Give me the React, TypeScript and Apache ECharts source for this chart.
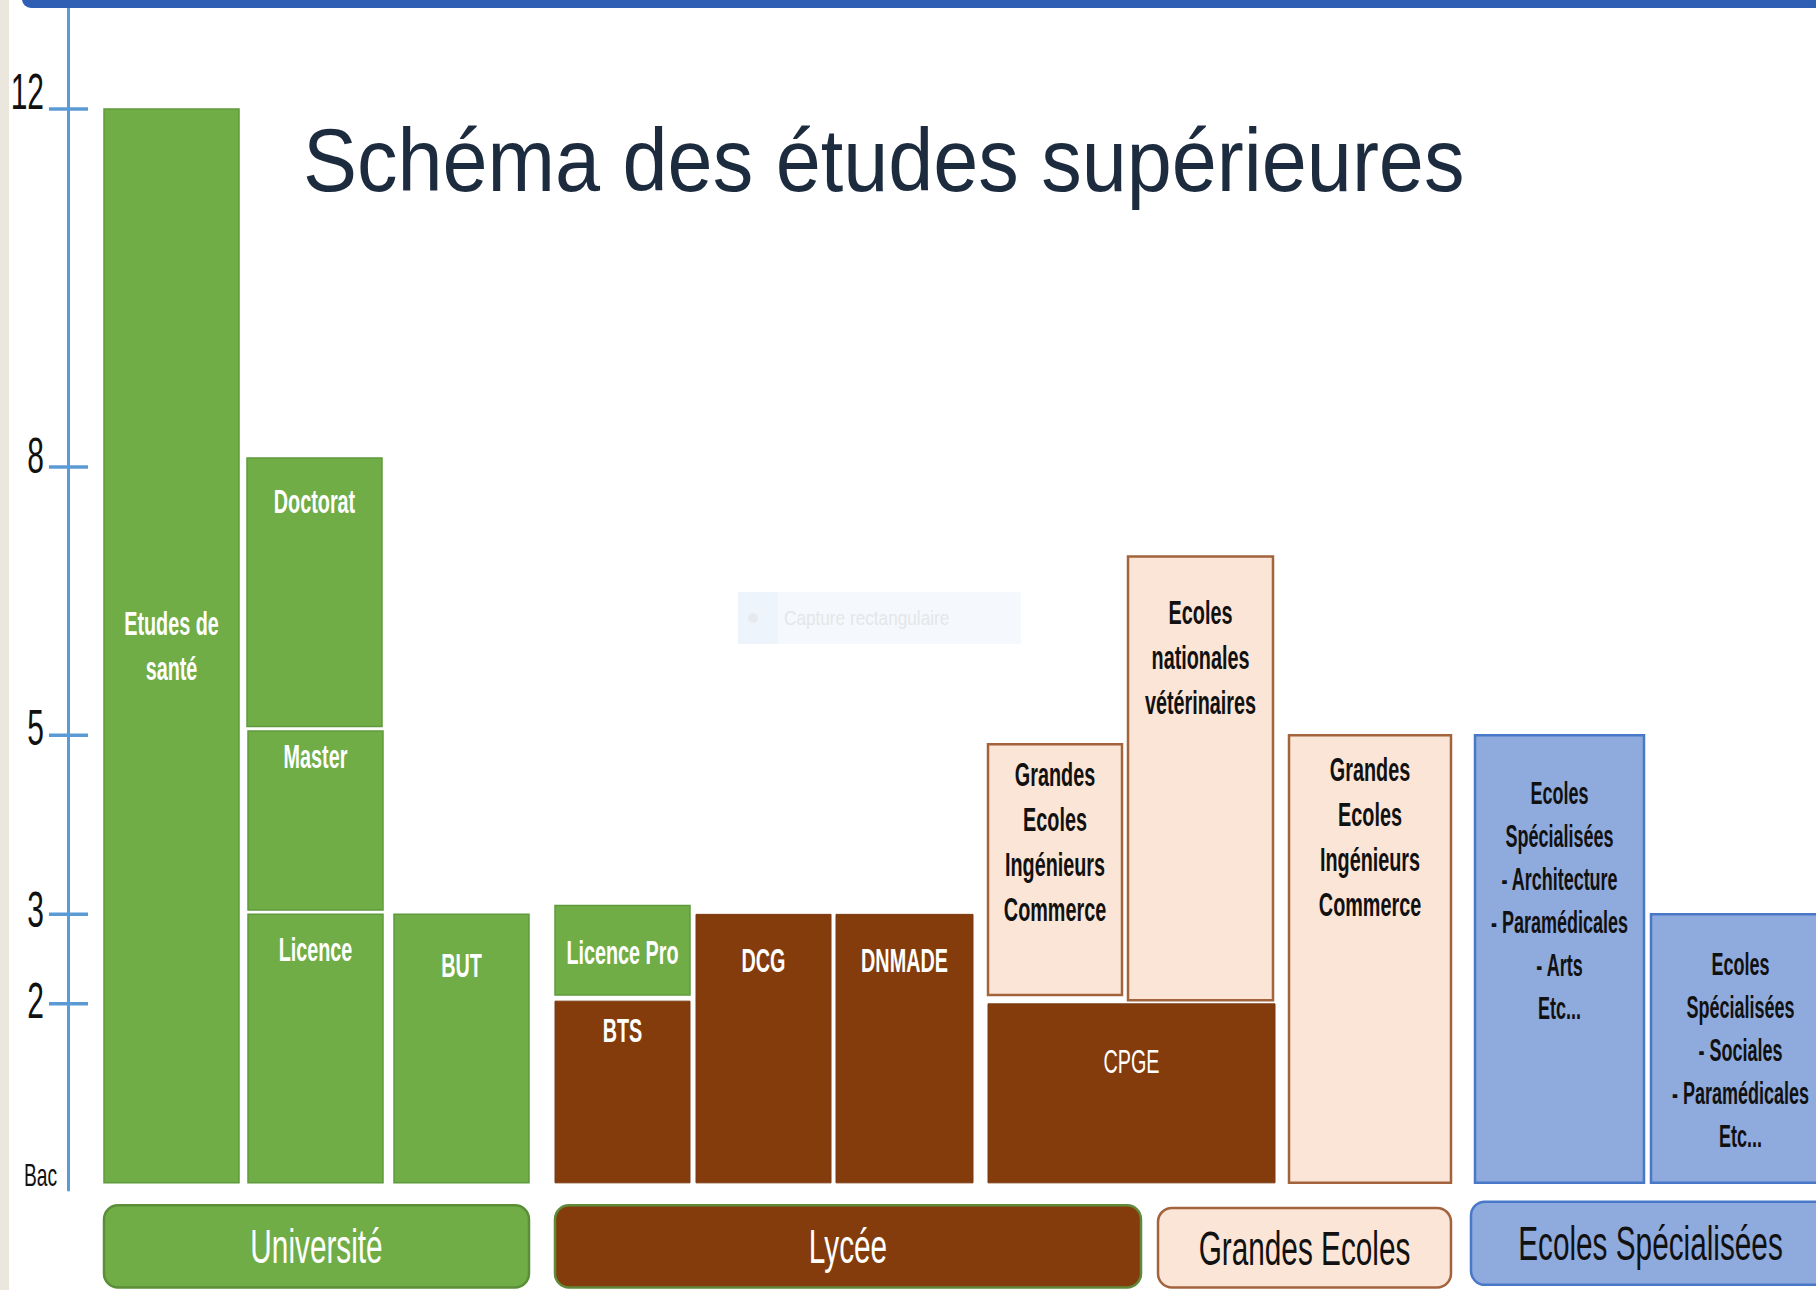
import React, { useEffect, useRef } from 'react';
import * as echarts from 'echarts';

// ---- Y axis (years after the Bac) ----
const tickValues = [2, 3, 5, 8, 12];
const axisLabelValues = [0, 2, 3, 5, 8, 12];
const axisLabelTexts = ['Bac', '2', '3', '5', '8', '12'];

// ---- Study boxes (left to right) ----
const boxNames = [
  'Etudes de\nsanté',
  'Doctorat',
  'Master',
  'Licence',
  'BUT',
  'Licence Pro',
  'BTS',
  'DCG',
  'DNMADE',
  'Grandes\nEcoles\nIngénieurs\nCommerce',
  'Ecoles\nnationales\nvétérinaires',
  'CPGE',
  'Grandes\nEcoles\nIngénieurs\nCommerce',
  'Ecoles\nSpécialisées\n- Architecture\n- Paramédicales\n- Arts\nEtc...',
  'Ecoles\nSpécialisées\n- Sociales\n- Paramédicales\nEtc...',
];
const boxFamilies = ['univ', 'univ', 'univ', 'univ', 'univ', 'univ', 'lycee', 'lycee', 'lycee', 'ge', 'ge', 'lycee', 'ge', 'es', 'es'];
const boxStartYear = [0, 5.1, 3.05, 0, 0, 2.1, 0, 0, 0, 2.1, 2.04, 0, 0, 0, 0];
const boxEndYear = [12, 8.1, 5.05, 3, 3, 3.1, 2.03, 3, 3, 4.9, 7, 2, 5, 5, 3];
const boxColStart = [3.6, 17.9, 18.0, 18.0, 32.6, 48.7, 48.7, 62.8, 76.8, 92.0, 106.0, 92.0, 122.1, 140.7, 158.3];
const boxColEnd = [17.1, 31.4, 31.5, 31.5, 46.1, 62.2, 62.2, 76.3, 90.5, 105.4, 120.5, 120.7, 138.3, 157.6, 176.2];

// ---- Pathway groups (bottom band) ----
const groupNames = ['Université', 'Lycée', 'Grandes Ecoles', 'Ecoles Spécialisées'];
const groupFamilies = ['univ', 'lycee', 'ge', 'es'];
const groupColStart = [3.6, 48.7, 109.0, 140.3];
const groupColEnd = [46.1, 107.3, 138.3, 176.2];
const groupTop = [-0.25, -0.25, -0.28, -0.21];
const groupBottom = [-1.17, -1.17, -1.17, -1.14];

// ---- layout / style helpers (not data) ----
const labelPad = [-1, 44, 26, 35, 51, 47, 29, 46, 46, 30, 56, 58, 34, 58, 50];
const boxBold = [true, true, true, true, true, true, true, true, true, true, true, false, true, true, true];
const FONT = 'Liberation Sans, Arial, sans-serif';

const famStyle: Record<string, any> = {
  univ: { fill: '#70ad47', stroke: '#5e9a3b', lw: 1.5, text: '#ffffff' },
  lycee: { fill: '#843c0c', stroke: '#7a3a12', lw: 1, text: '#ffffff' },
  ge: { fill: '#fbe5d6', stroke: '#a3633d', lw: 2.5, text: '#111111' },
  es: { fill: '#8faadc', stroke: '#4a78c8', lw: 2.5, text: '#111111' },
};
const groupStroke: Record<string, string> = {
  univ: '#5a8f38',
  lycee: '#5f8a3a',
  ge: '#a3633d',
  es: '#4a78c8',
};

export default function App() {
  const ref = useRef<HTMLDivElement>(null);

  useEffect(() => {
    if (!ref.current) return;
    const chart = echarts.init(ref.current, null, { renderer: 'svg' });

    const boxData = boxNames.map((_, i) => [boxColStart[i], boxColEnd[i], boxStartYear[i], boxEndYear[i]]);
    const groupData = groupNames.map((_, i) => [groupColStart[i], groupColEnd[i], groupBottom[i], groupTop[i]]);

    const option: any = {
      animation: false,
      backgroundColor: '#ffffff',
      grid: { left: 68, right: 0, top: 6, bottom: 100, containLabel: false },
      xAxis: { type: 'value', min: 0, max: 174.8, show: false },
      yAxis: {
        type: 'value',
        min: -0.08,
        max: 13.15,
        axisLine: { show: true, onZero: false, lineStyle: { color: '#5b9bd5', width: 3 } },
        axisTick: { show: false },
        axisLabel: { show: false },
        splitLine: { show: false },
      },
      graphic: [
        { type: 'rect', z: 100, shape: { x: 0, y: 0, width: 9, height: 1290 }, style: { fill: '#ebe7df' } },
        { type: 'rect', z: 100, shape: { x: 22, y: -12, width: 1810, height: 20, r: 9 }, style: { fill: '#2f5fb5' } },
        {
          type: 'text',
          z: 100,
          x: 303,
          y: 160,
          scaleX: 0.91,
          style: {
            text: 'Schéma des études supérieures',
            fill: '#1d2b3f',
            font: `89px ${FONT}`,
            align: 'left',
            verticalAlign: 'middle',
          },
        },
        { type: 'rect', z: 1, shape: { x: 738, y: 592, width: 283, height: 52 }, style: { fill: '#f5f9fd' } },
        { type: 'rect', z: 1, shape: { x: 738, y: 592, width: 40, height: 52 }, style: { fill: '#eef4fb' } },
        { type: 'circle', z: 1, shape: { cx: 753, cy: 618, r: 5 }, style: { fill: '#e6e9ee' } },
        {
          type: 'text',
          z: 1,
          x: 784,
          y: 618,
          scaleX: 0.86,
          style: { text: 'Capture rectangulaire', fill: '#e4e6e9', font: `20px ${FONT}`, align: 'left', verticalAlign: 'middle' },
        },
      ],
      series: [
        {
          type: 'custom',
          name: 'axisMarks',
          coordinateSystem: 'cartesian2d',
          data: axisLabelValues.map((v) => [0, v]),
          encode: { x: 0, y: 1 },
          silent: true,
          z: 3,
          renderItem: (params: any, api: any) => {
            const i = params.dataIndex;
            const v = api.value(1);
            const p = api.coord([0, v]);
            const children: any[] = [];
            if (tickValues.indexOf(v) >= 0) {
              children.push({
                type: 'line',
                shape: { x1: p[0] - 19, y1: p[1], x2: p[0] + 20, y2: p[1] },
                style: { stroke: '#5b9bd5', lineWidth: 3.5 },
              });
            }
            const isBac = v === 0;
            children.push({
              type: 'text',
              x: isBac ? p[0] - 11 : p[0] - 24,
              y: isBac ? p[1] - 8 : p[1] - 1.4 * v,
              scaleX: 0.6,
              style: {
                text: axisLabelTexts[i],
                fill: '#111111',
                font: `${isBac ? 32 : 50}px ${FONT}`,
                align: 'right',
                verticalAlign: 'middle',
              },
            });
            return { type: 'group', children };
          },
        },
        {
          type: 'custom',
          name: 'boxes',
          coordinateSystem: 'cartesian2d',
          data: boxData,
          encode: { x: [0, 1], y: [2, 3] },
          silent: true,
          z: 2,
          renderItem: (params: any, api: any) => {
            const i = params.dataIndex;
            const tl = api.coord([api.value(0), api.value(3)]);
            const br = api.coord([api.value(1), api.value(2)]);
            const w = br[0] - tl[0];
            const h = br[1] - tl[1];
            const st = famStyle[boxFamilies[i]];
            const isEs = boxFamilies[i] === 'es';
            const lh = isEs ? 43 : 45;
            const pad = labelPad[i];
            const centered = pad < 0;
            return {
              type: 'group',
              children: [
                {
                  type: 'rect',
                  shape: { x: tl[0], y: tl[1], width: w, height: h },
                  style: { fill: st.fill, stroke: st.stroke, lineWidth: st.lw },
                },
                {
                  type: 'text',
                  x: tl[0] + w / 2,
                  y: centered ? tl[1] + h / 2 : tl[1] + pad - lh / 2,
                  scaleX: isEs ? 0.58 : 0.6,
                  style: {
                    text: boxNames[i],
                    fill: st.text,
                    fontFamily: FONT,
                    fontSize: isEs ? 31 : 33,
                    fontWeight: boxBold[i] ? 'bold' : 'normal',
                    align: 'center',
                    verticalAlign: centered ? 'middle' : 'top',
                    lineHeight: lh,
                  },
                },
              ],
            };
          },
        },
        {
          type: 'custom',
          name: 'groups',
          coordinateSystem: 'cartesian2d',
          data: groupData,
          encode: { x: [0, 1], y: [2, 3] },
          silent: true,
          clip: false,
          z: 2,
          renderItem: (params: any, api: any) => {
            const i = params.dataIndex;
            const tl = api.coord([api.value(0), api.value(3)]);
            const br = api.coord([api.value(1), api.value(2)]);
            const w = br[0] - tl[0];
            const h = br[1] - tl[1];
            const st = famStyle[groupFamilies[i]];
            return {
              type: 'group',
              children: [
                {
                  type: 'rect',
                  shape: { x: tl[0], y: tl[1], width: w, height: h, r: 14 },
                  style: { fill: st.fill, stroke: groupStroke[groupFamilies[i]], lineWidth: 2.5 },
                },
                {
                  type: 'text',
                  x: tl[0] + w / 2,
                  y: tl[1] + h / 2,
                  scaleX: 0.62,
                  style: {
                    text: groupNames[i],
                    fill: st.text,
                    fontFamily: FONT,
                    fontSize: 48,
                    align: 'center',
                    verticalAlign: 'middle',
                  },
                },
              ],
            };
          },
        },
      ],
    };

    chart.setOption(option);
    return () => chart.dispose();
  }, []);

  return (
    <div
      ref={ref}
      style={{ position: 'absolute', left: 0, top: 0, width: 1816, height: 1290, background: '#ffffff' }}
    />
  );
}
